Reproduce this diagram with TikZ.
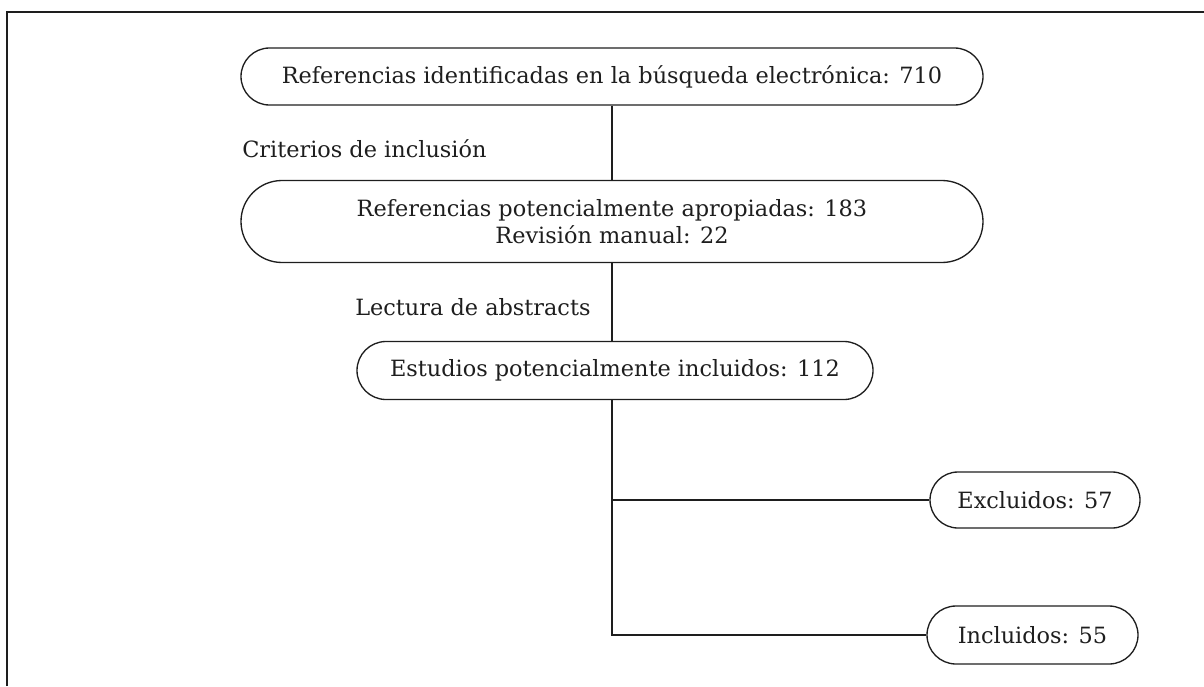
\documentclass[tikz,border=0pt]{standalone}
\usepackage{fontspec}
\setmainfont{DejaVu Serif}
\usetikzlibrary{shapes.misc}
\definecolor{ink}{RGB}{30,30,30}
\begin{document}
\begin{tikzpicture}[x=0.75pt,y=-0.75pt,
  pill/.style={draw=ink, rounded rectangle, line width=1pt, inner sep=0pt, text=ink,
    font=\fontsize{16.8}{20.5}\selectfont, align=center},
  lbl/.style={anchor=base west, inner sep=0pt, text=ink, font=\fontsize{16.8}{20.5}\selectfont},
  conn/.style={draw=ink, line width=1pt},
  frame/.style={draw=ink, line width=1.5pt}]
\useasboundingbox (0,0) rectangle (1204,686);
\coordinate (fa) at (7,686);
\coordinate (fb) at (7,12);
\coordinate (fc) at (1204,12);
\draw[frame] (fa) -- (fb) -- (fc);

\node[pill, minimum width=556.5pt, minimum height=42.75pt] (n1) at (612,76.5)
  {Referencias identificadas en la búsqueda electrónica: 710};
\node[pill, minimum width=556.5pt, minimum height=61.5pt] (n2) at (612,221.5)
  {Referencias potencialmente apropiadas: 183\\Revisión manual: 22};
\node[pill, minimum width=387pt, minimum height=43.5pt] (n3) at (615,370.5)
  {Estudios potencialmente incluidos: 112};
\node[pill, minimum width=157.5pt, minimum height=42pt] (n4) at (1035,500)
  {Excluidos: 57};
\node[pill, minimum width=158.25pt, minimum height=43.5pt] (n5) at (1032.5,635)
  {Incluidos: 55};

\node[lbl] (l1) at (242,157) {Criterios de inclusión};
\node[lbl] (l2) at (355,315) {Lectura de abstracts};

\coordinate (b1) at (612,500);
\coordinate (b2) at (612,635);
\draw[conn] (n1.south) -- (n2.north);
\draw[conn] (n2.south) -- (n2.south |- n3.north);
\draw[conn] (n3.south -| b1) -- (b2) -- (n5.west);
\draw[conn] (b1) -- (n4.west);
\end{tikzpicture}
\end{document}
